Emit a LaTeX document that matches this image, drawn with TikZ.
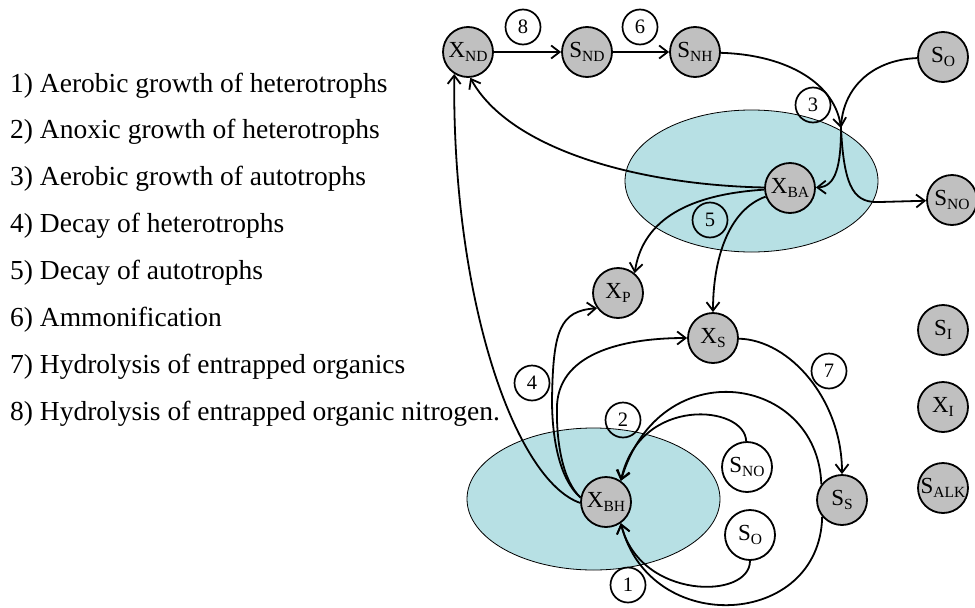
\documentclass[tikz,border=0pt]{standalone}
\usepackage{fontspec}
\setmainfont{Liberation Serif}
\usetikzlibrary{arrows.meta}
\definecolor{nodegray}{RGB}{192,192,192}
\definecolor{cellfill}{RGB}{183,224,228}
% species symbol with a lowered, smaller subscript
\newcommand\spc[2]{{\fontsize{23}{23}\selectfont #1}\raisebox{-4pt}{\fontsize{15.5}{15.5}\selectfont #2}}

\begin{document}
\begin{tikzpicture}[x=1pt,y=-1pt,
  state/.style={circle,draw,line width=1.8pt,fill=nodegray,minimum size=50pt,inner sep=0pt},
  freestate/.style={state,fill=white},
  proc/.style={circle,draw,line width=1.7pt,minimum size=35pt,inner sep=0pt,font=\fontsize{20.5}{20.5}\selectfont},
  flow/.style={line width=1.8pt,-{Straight Barb[length=8.5pt,width=13pt]}},
  link/.style={line width=1.8pt},
  cell/.style={draw,line width=0.8pt,fill=cellfill},
  item/.style={anchor=base west,inner sep=0pt,font=\fontsize{27.5}{27.5}\selectfont}]
\useasboundingbox (0,0) rectangle (975,608);

% process list
\node[item] (p1) at (10,92)    {1) Aerobic growth of heterotrophs};
\node[item] (p2) at (10,138.9) {2) Anoxic growth of heterotrophs};
\node[item] (p3) at (10,185.7) {3) Aerobic growth of autotrophs};
\node[item] (p4) at (10,232.6) {4) Decay of heterotrophs};
\node[item] (p5) at (10,279.4) {5) Decay of autotrophs};
\node[item] (p6) at (10,326.3) {6) Ammonification};
\node[item] (p7) at (10,373.1) {7) Hydrolysis of entrapped organics};
\node[item] (p8) at (10,420)   {8) Hydrolysis of entrapped organic nitrogen.};

% biomass compartments
\draw[cell] (751.5,181) ellipse [x radius=126.5pt, y radius=71pt];
\draw[cell] (593.5,499) ellipse [x radius=126.5pt, y radius=71pt];

% state variables
\node[state] (XND) at (468,52)  {\spc{X}{ND}};
\node[state] (SND) at (587,52)  {\spc{S}{ND}};
\node[state] (SNH) at (695,52)  {\spc{S}{NH}};
\node[state] (SO)  at (943,57)  {\spc{S}{O}};
\node[state] (XBA) at (790,188) {\spc{X}{BA}};
\node[state] (SNO) at (952,200) {\spc{S}{NO}};
\node[state] (XP)  at (618,293) {\spc{X}{P}};
\node[state] (XS)  at (713,338) {\spc{X}{S}};
\node[state] (SI)  at (943,330) {\spc{S}{I}};
\node[state] (XI)  at (943,407) {\spc{X}{I}};
\node[state] (SALK) at (943,488) {\makebox[40pt]{\spc{S}{ALK}}};
\node[state] (SS)  at (842,500) {\spc{S}{S}};
\node[state] (XBH) at (606,502) {\spc{X}{BH}};
\node[freestate] (SNOb) at (747,467) {\spc{S}{NO}};
\node[freestate] (SOb)  at (750,535) {\spc{S}{O}};

% process numbers
\node[proc] (n8) at (523,27)  {8};
\node[proc] (n6) at (640,27)  {6};
\node[proc] (n3) at (813,105) {3};
\node[proc] (n5) at (710,220) {5};
\node[proc] (n4) at (532,383) {4};
\node[proc] (n7) at (829,371) {7};
\node[proc] (n2) at (623,420) {2};
\node[proc] (n1) at (628,585) {1};

\coordinate (m3) at (841,128);

% hydrolysis and ammonification
\draw[flow] (XND) -- (SND);
\draw[flow] (SND) -- (SNH);

% aerobic growth of autotrophs
\draw[flow] (SNH) .. controls (790,55) and (835,85) .. (m3);
\draw[link] (SO) .. controls (870,60) and (842,90) .. (m3);
\draw[flow] (m3) .. controls (841,165) and (836,187) .. (XBA);
\draw[flow] (m3) .. controls (844,192) and (856,203) .. (880,202) -- (SNO);

% decay of autotrophs
\draw[flow] (XBA) .. controls (640,185) and (510,150) .. (XND.275);
\draw[flow] (XBA) .. controls (680,195) and (642,225) .. (XP.50);
\draw[flow] (XBA) .. controls (728,210) and (713,260) .. (XS);

% decay of heterotrophs
\draw[flow] (XBH.182) .. controls (515,480) and (452,300) .. (XND.238);
\draw[flow] (XBH.170) .. controls (560,480) and (552,440) .. (552,400)
  .. controls (553,330) and (560,311) .. (XP.216);
\draw[flow] (XBH.170) .. controls (562,480) and (556,440) .. (557,405)
  .. controls (560,350) and (630,338) .. (XS.west);

% hydrolysis of entrapped organics
\draw[flow] (XS) .. controls (790,340) and (842,400) .. (SS);

% anoxic and aerobic growth of heterotrophs
\draw[flow] (SS.143) .. controls (818,375) and (660,350) .. (XBH.55);
\draw[flow] (SNOb) .. controls (745,405) and (640,395) .. (XBH.55);
\draw[flow] (SS.220) .. controls (820,628) and (650,638) .. (XBH.-55);
\draw[flow] (SOb) .. controls (750,600) and (640,600) .. (XBH.-55);
\end{tikzpicture}
\end{document}
